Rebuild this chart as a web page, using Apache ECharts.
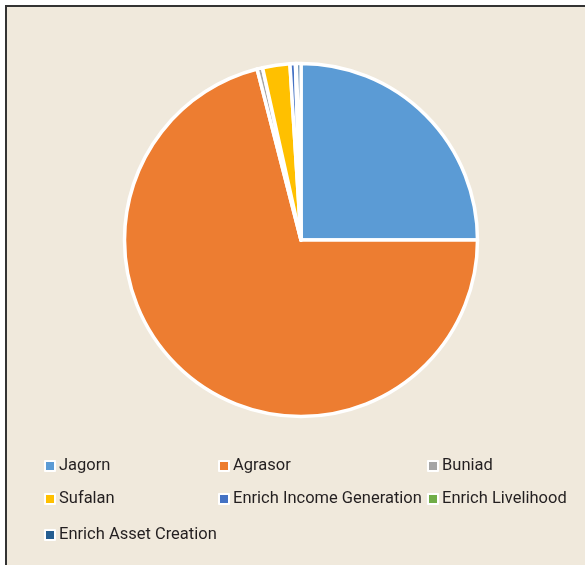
<!DOCTYPE html>
<html>
<head>
<meta charset="utf-8">
<script src="https://cdn.jsdelivr.net/npm/echarts@6/dist/echarts.min.js"></script>
<style>
html,body{margin:0;padding:0;background:#fff;}
#chart{width:585px;height:565px;}
</style>
</head>
<body>
<div id="chart"></div>
<script>
const categories = ['Jagorn','Agrasor','Buniad','Sufalan','Enrich Income Generation','Enrich Livelihood','Enrich Asset Creation'];
const values = [25.0, 71.0, 0.5, 2.5, 0.5, 0.1, 0.4];
const colors = ['#5B9BD5','#ED7D31','#A5A5A5','#FFC000','#4472C4','#70AD47','#255E91'];

const legendPos = [
  [44, 466], [218, 466], [427, 466],
  [44, 499], [218, 499], [427, 499],
  [44, 535]
];

const chart = echarts.init(document.getElementById('chart'));
const legends = categories.map((c, i) => ({
  data: [c],
  left: legendPos[i][0],
  top: legendPos[i][1] - 11,
  orient: 'horizontal',
  icon: 'rect',
  itemWidth: 10,
  itemHeight: 10,
  itemGap: 0,
  padding: 0,
  selectedMode: false,
  textStyle: {
    fontFamily: 'Roboto',
    fontSize: 16.5,
    color: '#231F20',
    padding: [0, 0, 0, -1],
    lineHeight: 22
  }
}));

chart.setOption({
  backgroundColor: '#ffffff',
  color: colors,
  animation: false,
  graphic: [{
    type: 'rect',
    z: -10,
    shape: { x: 6, y: 6, width: 620, height: 620 },
    style: { fill: '#F0E9DC', stroke: '#333333', lineWidth: 2 }
  }],
  legend: legends,
  series: [{
    type: 'pie',
    center: [301, 240],
    radius: 176.5,
    startAngle: 90,
    clockwise: true,
    label: { show: false },
    labelLine: { show: false },
    itemStyle: { borderColor: '#ffffff', borderWidth: 3.5 },
    data: categories.map((c, i) => ({ name: c, value: values[i] }))
  }]
});
</script>
</body>
</html>
